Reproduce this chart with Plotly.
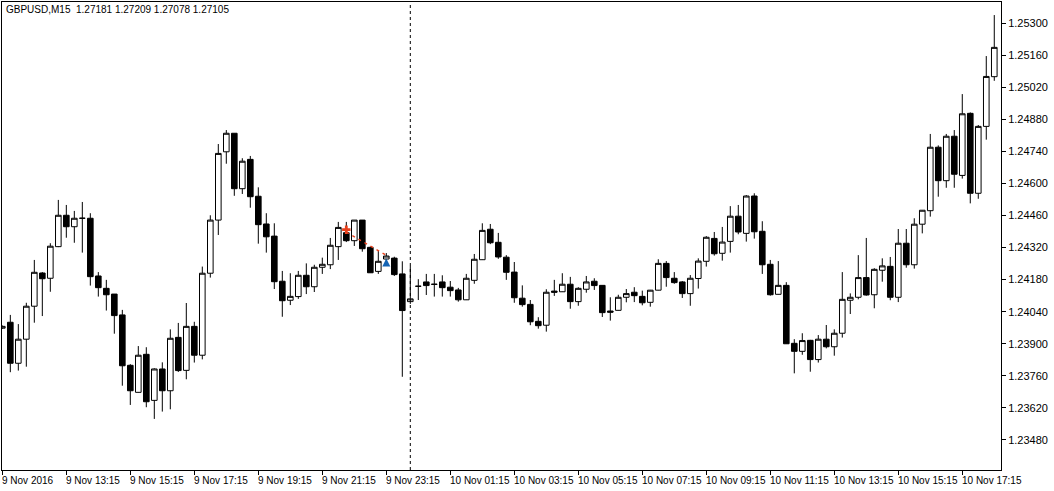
import plotly.graph_objects as go
import pandas as pd

# ---- data (GBPUSD M15) ----
start_time = "2016-11-09 11:15"
open_ = [1.23968, 1.23994, 1.23815, 1.23920, 1.24064, 1.24209, 1.24186, 1.24324, 1.24461, 1.24411,
         1.24448, 1.24448, 1.24196, 1.24142, 1.24117, 1.24026, 1.23806, 1.23688, 1.23854, 1.23653,
         1.23790, 1.23695, 1.23928, 1.23784, 1.23976, 1.23850, 1.24208, 1.24440, 1.24738, 1.24819,
         1.24577, 1.24705, 1.24544, 1.24423, 1.24370, 1.24173, 1.24090, 1.24106, 1.24199, 1.24149,
         1.24234, 1.24245, 1.24324, 1.24385, 1.24350, 1.24440, 1.24321, 1.24216, 1.24270, 1.24274,
         1.24205, 1.24084, 1.24151, 1.24170, 1.24159, 1.24170, 1.24147, 1.24135, 1.24092, 1.24177,
         1.24267, 1.24400, 1.24343, 1.24278, 1.24213, 1.24099, 1.24072, 1.23998, 1.23981, 1.24130,
         1.24127, 1.24160, 1.24084, 1.24138, 1.24173, 1.24155, 1.24043, 1.24046, 1.24103, 1.24125,
         1.24107, 1.24081, 1.24134, 1.24251, 1.24186, 1.24170, 1.24119, 1.24185, 1.24260, 1.24360,
         1.24295, 1.24347, 1.24457, 1.24382, 1.24545, 1.24391, 1.24247, 1.24116, 1.24155, 1.23902,
         1.23867, 1.23915, 1.23831, 1.23920, 1.23887, 1.23946, 1.24090, 1.24103, 1.24189, 1.24114,
         1.24221, 1.24238, 1.24103, 1.24339, 1.24245, 1.24422, 1.24481, 1.24758, 1.24612, 1.24806,
         1.24635, 1.24906, 1.24557, 1.24849, 1.25066]
high = [1.23980, 1.24026, 1.23986, 1.24079, 1.24266, 1.24213, 1.24339, 1.24528, 1.24506, 1.24480,
        1.24519, 1.24470, 1.24213, 1.24179, 1.24117, 1.24048, 1.23811, 1.23890, 1.23885, 1.23793,
        1.23819, 1.23963, 1.23991, 1.24078, 1.23996, 1.24237, 1.24461, 1.24772, 1.24833, 1.24819,
        1.24710, 1.24720, 1.24583, 1.24470, 1.24426, 1.24218, 1.24208, 1.24218, 1.24251, 1.24245,
        1.24276, 1.24362, 1.24432, 1.24432, 1.24440, 1.24440, 1.24324, 1.24306, 1.24296, 1.24280,
        1.24260, 1.24240, 1.24182, 1.24205, 1.24205, 1.24199, 1.24174, 1.24144, 1.24205, 1.24292,
        1.24426, 1.24423, 1.24384, 1.24287, 1.24257, 1.24155, 1.24091, 1.24016, 1.24138, 1.24179,
        1.24208, 1.24192, 1.24147, 1.24196, 1.24186, 1.24155, 1.24103, 1.24114, 1.24139, 1.24147,
        1.24132, 1.24135, 1.24269, 1.24261, 1.24213, 1.24174, 1.24200, 1.24273, 1.24370, 1.24388,
        1.24410, 1.24501, 1.24506, 1.24549, 1.24557, 1.24435, 1.24266, 1.24261, 1.24169, 1.23920,
        1.23946, 1.23917, 1.23938, 1.23982, 1.23963, 1.24213, 1.24120, 1.24287, 1.24362, 1.24230,
        1.24273, 1.24279, 1.24401, 1.24401, 1.24448, 1.24484, 1.24816, 1.24766, 1.24816, 1.24833,
        1.24990, 1.24910, 1.24855, 1.25156, 1.25335]
low = [1.23965, 1.23776, 1.23783, 1.23800, 1.23992, 1.24021, 1.24127, 1.24322, 1.24363, 1.24341,
       1.24298, 1.24154, 1.24106, 1.24045, 1.23944, 1.23717, 1.23633, 1.23687, 1.23623, 1.23572,
       1.23604, 1.23614, 1.23777, 1.23745, 1.23818, 1.23832, 1.24189, 1.24375, 1.24686, 1.24546,
       1.24554, 1.24494, 1.24337, 1.24298, 1.24139, 1.24018, 1.24069, 1.24096, 1.24117, 1.24126,
       1.24205, 1.24226, 1.24266, 1.24344, 1.24327, 1.24302, 1.24209, 1.24205, 1.24253, 1.24196,
       1.23756, 1.24074, 1.24091, 1.24113, 1.24106, 1.24106, 1.24106, 1.24084, 1.24091, 1.24162,
       1.24266, 1.24335, 1.24271, 1.24179, 1.24079, 1.24062, 1.23981, 1.23966, 1.23953, 1.24109,
       1.24126, 1.24053, 1.24066, 1.24123, 1.24135, 1.24017, 1.24001, 1.24045, 1.24081, 1.24082,
       1.24068, 1.24062, 1.24133, 1.24149, 1.24162, 1.24100, 1.24066, 1.24141, 1.24237, 1.24285,
       1.24263, 1.24298, 1.24378, 1.24346, 1.24359, 1.24205, 1.24110, 1.24115, 1.23899, 1.23771,
       1.23852, 1.23778, 1.23818, 1.23880, 1.23848, 1.23927, 1.24030, 1.24094, 1.24110, 1.24055,
       1.24171, 1.24090, 1.24082, 1.24232, 1.24228, 1.24382, 1.24455, 1.24542, 1.24581, 1.24581,
       1.24621, 1.24513, 1.24533, 1.24791, 1.25048]
close = [1.23976, 1.23815, 1.23920, 1.24064, 1.24212, 1.24184, 1.24326, 1.24461, 1.24411, 1.24448,
         1.24448, 1.24193, 1.24145, 1.24114, 1.24023, 1.23804, 1.23695, 1.23850, 1.23647, 1.23790,
         1.23695, 1.23924, 1.23783, 1.23976, 1.23850, 1.24208, 1.24440, 1.24731, 1.24819, 1.24577,
         1.24697, 1.24542, 1.24420, 1.24367, 1.24171, 1.24088, 1.24107, 1.24199, 1.24149, 1.24234,
         1.24247, 1.24330, 1.24408, 1.24350, 1.24440, 1.24315, 1.24210, 1.24260, 1.24283, 1.24202,
         1.24045, 1.24096, 1.24151, 1.24154, 1.24160, 1.24145, 1.24132, 1.24092, 1.24186, 1.24269,
         1.24395, 1.24341, 1.24279, 1.24212, 1.24101, 1.24071, 1.23996, 1.23979, 1.24125, 1.24125,
         1.24160, 1.24084, 1.24142, 1.24170, 1.24154, 1.24036, 1.24038, 1.24103, 1.24119, 1.24110,
         1.24079, 1.24134, 1.24251, 1.24189, 1.24167, 1.24119, 1.24186, 1.24261, 1.24365, 1.24293,
         1.24344, 1.24457, 1.24388, 1.24545, 1.24389, 1.24245, 1.24114, 1.24155, 1.23900, 1.23867,
         1.23914, 1.23831, 1.23920, 1.23887, 1.23946, 1.24094, 1.24103, 1.24189, 1.24113, 1.24225,
         1.24240, 1.24103, 1.24339, 1.24245, 1.24422, 1.24483, 1.24758, 1.24612, 1.24806, 1.24640,
         1.24904, 1.24557, 1.24849, 1.25067, 1.25194]

price_ticks = [1.23480, 1.23620, 1.23760, 1.23900, 1.24040, 1.24180, 1.24320,
               1.24460, 1.24600, 1.24740, 1.24880, 1.25020, 1.25160, 1.25300]
time_tick_labels = ["9 Nov 2016", "9 Nov 13:15", "9 Nov 15:15", "9 Nov 17:15", "9 Nov 19:15",
                    "9 Nov 21:15", "9 Nov 23:15", "10 Nov 01:15", "10 Nov 03:15", "10 Nov 05:15",
                    "10 Nov 07:15", "10 Nov 09:15", "10 Nov 11:15", "10 Nov 13:15", "10 Nov 15:15",
                    "10 Nov 17:15"]
header_text = "GBPUSD,M15  1.27181 1.27209 1.27078 1.27105"
separator_time = "2016-11-10 00:00"
sell_index, sell_price = 43, 1.24398
close_index, close_price = 48, 1.24272

# ---- figure ----
FONT = "Liberation Sans"
bar = pd.Timedelta(minutes=15)
times = pd.date_range(start_time, periods=len(open_), freq="15min")
tick_times = list(times[::8])

fig = go.Figure()
fig.add_trace(go.Candlestick(
    x=times, open=open_, high=high, low=low, close=close,
    increasing=dict(line=dict(color="black", width=1), fillcolor="white"),
    decreasing=dict(line=dict(color="black", width=1), fillcolor="black"),
    whiskerwidth=0, showlegend=False, hoverinfo="skip"))

# trade line + arrows
fig.add_trace(go.Scatter(x=[times[sell_index], times[close_index]],
                         y=[sell_price - 0.00010, close_price + 0.00014],
                         mode="lines", line=dict(color="#e8401c", width=1.4, dash="3px,4px"),
                         showlegend=False, hoverinfo="skip"))
fig.add_trace(go.Scatter(x=[times[sell_index]], y=[sell_price], mode="markers",
                         marker=dict(symbol="cross", size=7, color="#e8401c"),
                         showlegend=False, hoverinfo="skip"))
fig.add_trace(go.Scatter(x=[times[close_index]], y=[close_price], mode="markers",
                         marker=dict(symbol="arrow-up", size=8, color="#1464b4"),
                         showlegend=False, hoverinfo="skip"))

fig.add_shape(type="line", xref="x", yref="paper", x0=separator_time, x1=separator_time, y0=0, y1=1,
              line=dict(color="black", width=1, dash="3px,3px"))

for t, lab in zip(tick_times, time_tick_labels):
    fig.add_annotation(x=t, xref="x", y=0, yref="paper", yanchor="top", xanchor="left",
                       text=lab, showarrow=False, xshift=-2, yshift=-3,
                       font=dict(family=FONT, size=10, color="black"))

fig.add_annotation(x=0, xref="paper", y=1, yref="paper", xanchor="left", yanchor="top",
                   text=header_text, showarrow=False, xshift=2, yshift=0,
                   font=dict(family=FONT, size=10, color="black"))

fig.update_layout(
    width=1054, height=491,
    margin=dict(l=2, r=53, t=2, b=21),
    paper_bgcolor="white", plot_bgcolor="white",
    boxgap=0.3, boxgroupgap=0,
    xaxis=dict(type="date", range=[times[0] - 0.04 * bar, times[-1] + 0.84 * bar],
               rangeslider=dict(visible=False), showgrid=False, zeroline=False,
               showline=True, linecolor="black", linewidth=1, mirror=True,
               tickvals=tick_times, showticklabels=False,
               ticks="outside", ticklen=4, tickcolor="black", tickwidth=1),
    yaxis=dict(side="right", range=[1.23349, 1.25392], showgrid=False, zeroline=False,
               showline=True, linecolor="black", linewidth=1, mirror=True,
               tickvals=price_ticks, ticktext=[f"{v:.5f}" for v in price_ticks],
               ticks="outside", ticklen=4, tickcolor="black", tickwidth=1,
               tickfont=dict(family=FONT, size=11, color="black")),
)

fig.write_html("out.html")
